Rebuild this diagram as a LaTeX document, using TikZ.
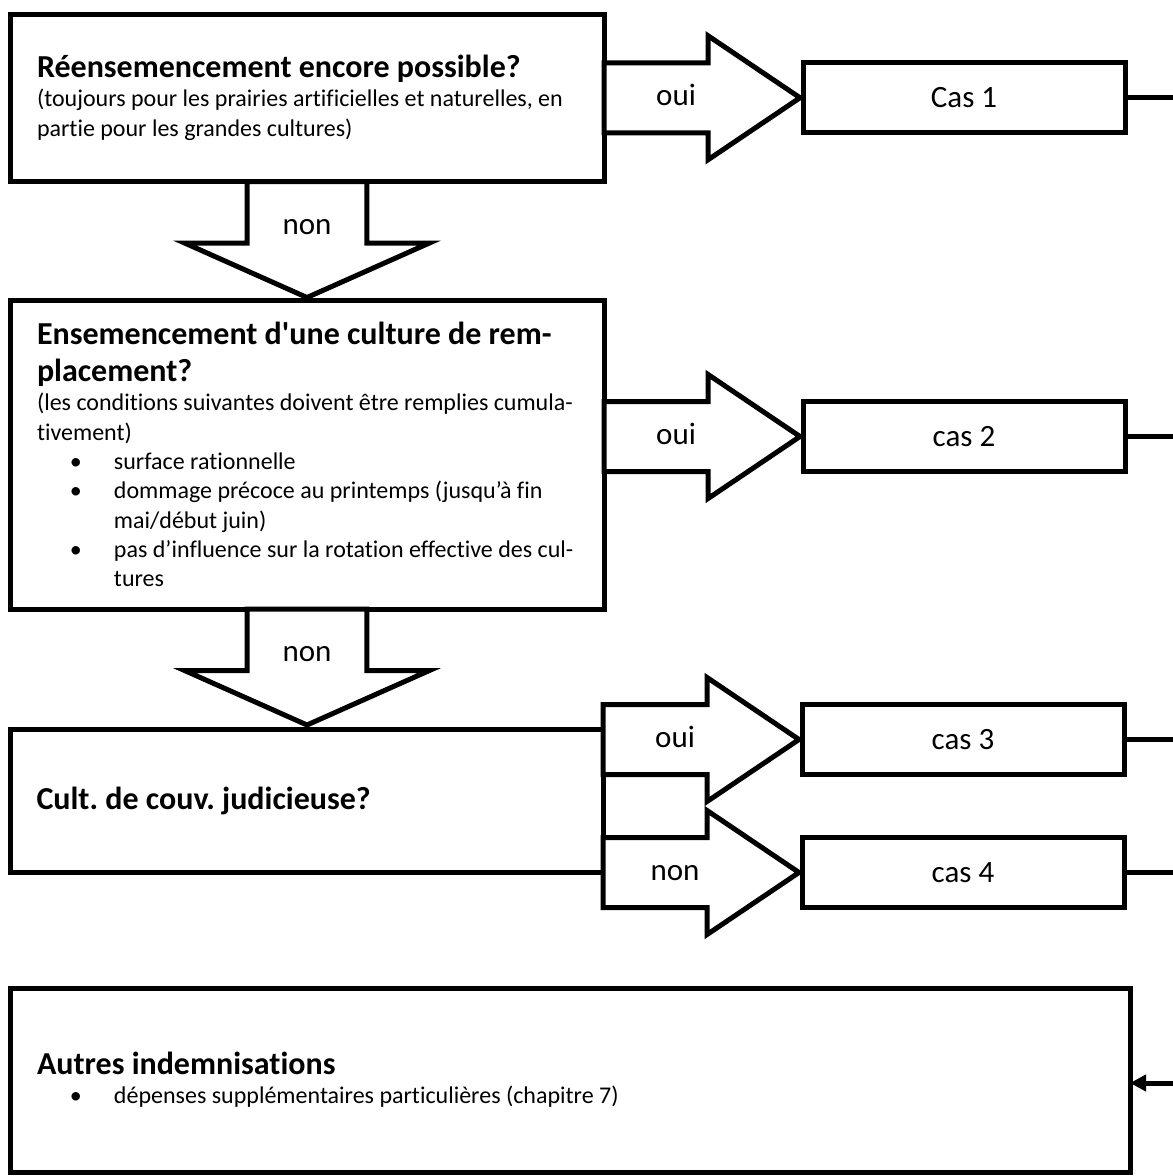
\documentclass[tikz,border=0pt]{standalone}
\usepackage{fontspec}
\setmainfont{Carlito}[Ligatures={TeX,CommonOff}]
\usepackage{tikz}
\usetikzlibrary{
  shapes.arrows,
  arrows.meta,
  positioning
}
\frenchspacing
\newcommand{\titlefont}{\fontsize{32}{37}\bfseries\selectfont}
\newcommand{\notefont}{\fontsize{24}{29.3}\selectfont}
\newcommand{\labelfont}{\fontsize{31}{36}\selectfont}
\newcommand{\puce}{\hspace*{33pt}\makebox[44pt][l]{\textbullet}}
\newcommand{\suite}{\hspace*{77pt}}
\tikzset{
  qbox/.style = {
    rectangle, draw=black, line width=5pt, fill=white,
    text width=#1, align=flush left, inner sep=0pt, outer sep=0pt,
    execute at begin node={\leftskip=10pt\relax}
  },
  qbox/.default = 560pt,
  casbox/.style = {
    rectangle, draw=black, line width=5pt, fill=white,
    minimum width=322pt, minimum height=70pt,
    inner sep=0pt, outer sep=0pt, font=\labelfont
  },
  ouiarrow/.style = {
    single arrow, draw=black, line width=5pt, fill=white,
    single arrow head extend=27pt, single arrow tip angle=68,
    minimum height=196pt, inner xsep=0pt, inner ysep=19.5pt,
    text height=21pt, text depth=5pt, outer sep=0pt,
    anchor=tail, font=\labelfont
  },
  nonarrow/.style = {
    single arrow, shape border rotate=270, draw=black, line width=5pt,
    fill=white, single arrow head extend=62pt, single arrow tip angle=132,
    minimum height=116pt, inner xsep=33pt, inner ysep=0pt,
    text height=21pt, text depth=5pt, outer sep=0pt,
    anchor=tail, font=\labelfont
  },
  link/.style = {draw=black, line width=5pt},
  linkarr/.style = {-{Triangle[length=16pt, width=16pt]}, draw=black, line width=5pt},
}

\begin{document}
\begin{tikzpicture}[x=1pt, y=-1pt]
  \useasboundingbox (0,0) rectangle (1173,1176);
  \fill[white] (0,0) rectangle (1173,1176);

  % Questions (left)
  \node[qbox, minimum width=594pt, minimum height=167.5pt] (q1) at (307,97.75)
    {{\titlefont Réensemencement encore possible?\par}
     {\notefont (toujours pour les prairies artificielles et naturelles, en\\
      partie pour les grandes cultures)\par}};
  \node[qbox, minimum width=594pt, minimum height=309pt] (q2) at (307,454.5)
    {{\titlefont Ensemencement d\textquotesingle une culture de rem-\\
      placement?\par}
     {\notefont (les conditions suivantes doivent être remplies cumula-\\
      tivement)\\
      \puce surface rationnelle\\
      \puce dommage précoce au printemps (jusqu’à fin\\
      \suite mai/début juin)\\
      \puce pas d’influence sur la rotation effective des cul-\\
      \suite tures\par}};
  \node[qbox, minimum width=593pt, minimum height=143pt] (q3) at (306.5,800.5)
    {{\titlefont Cult. de couv. judicieuse?\par}};
  \node[qbox=1086pt, minimum width=1120pt, minimum height=184pt] (other) at (570,1080)
    {{\titlefont Autres indemnisations\par}
     {\notefont \puce dépenses supplémentaires particulières (chapitre 7)\par}};

  % Answers
  \node[nonarrow] (no1) at (q1.south) {non};
  \node[nonarrow] (no2) at (q2.south) {non};
  \node[ouiarrow] (yes1) at (q1.east) {oui};
  \node[ouiarrow] (yes2) at ([yshift=18pt]q2.east) {oui};
  \node[ouiarrow] (yes3) at ([yshift=61pt]q3.east) {oui};
  \node[ouiarrow] (no3) at ([yshift=-72pt]q3.east) {non};

  % Cases (right)
  \node[casbox, right=3pt of yes1.tip] (cas1) {Cas 1};
  \node[casbox, right=3pt of yes2.tip] (cas2) {cas 2};
  \node[casbox, right=3pt of yes3.tip] (cas3) {cas 3};
  \node[casbox, right=3pt of no3.tip] (cas4) {cas 4};

  % Lines to the right margin
  \coordinate (rim) at (1180,1083);
  \draw[link] (cas1) -- (cas1 -| rim);
  \draw[link] (cas2) -- (cas2 -| rim);
  \draw[link] (cas3) -- (cas3 -| rim);
  \draw[link] (cas4) -- (cas4 -| rim);
  \draw[linkarr] (rim) -- (rim -| other.east);

\end{tikzpicture}
\end{document}
